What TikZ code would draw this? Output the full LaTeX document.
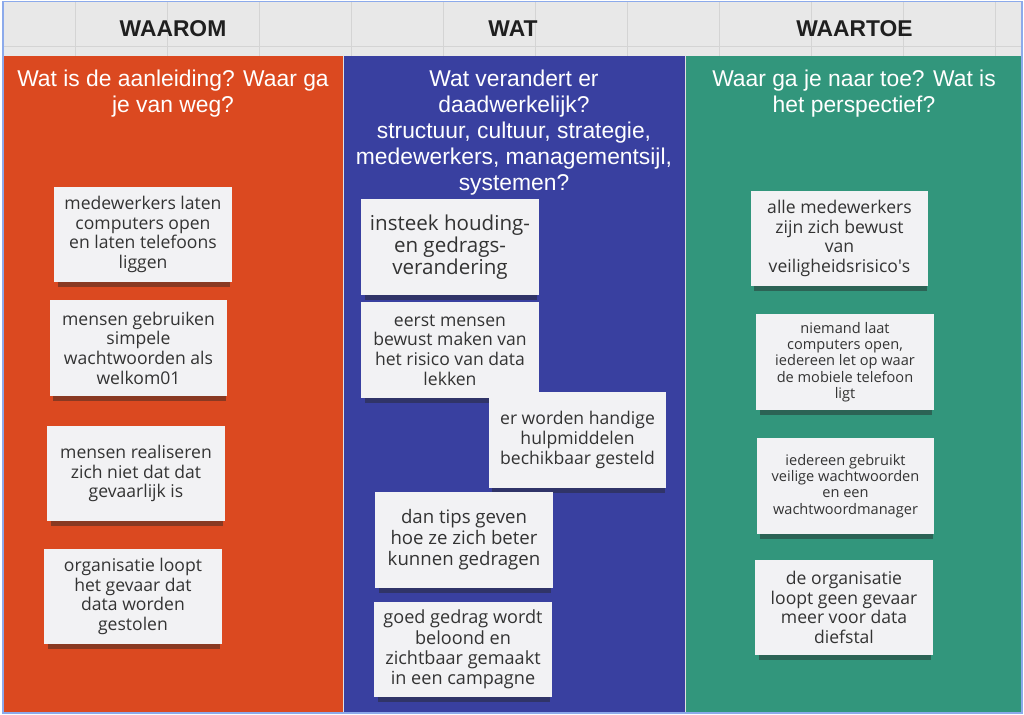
\documentclass[tikz,border=0pt]{standalone}
\usepackage{fontspec}
\setmainfont{Open Sans}
\newfontfamily\titlefont{Liberation Sans}
\usetikzlibrary{shadows}

\definecolor{waaromorange}{RGB}{219,73,32}
\definecolor{watblue}{RGB}{57,64,160}
\definecolor{waartoegreen}{RGB}{50,150,124}
\definecolor{headgray}{RGB}{232,232,232}
\definecolor{gridgray}{RGB}{212,212,212}
\definecolor{notefill}{RGB}{242,242,244}
\definecolor{notetext}{RGB}{51,51,51}
\definecolor{frameblue}{RGB}{140,170,235}

\tikzset{
  sticky/.style={fill=notefill, text=notetext, align=center, inner sep=0pt,
    minimum width=3.56cm, minimum height=1.92cm,
    font=\fontsize{10}{11.2}\selectfont,
    drop shadow={shadow xshift=0.5pt, shadow yshift=-3.5pt, shadow scale=0.97, opacity=.45, fill=black!85}},
  smallsticky/.style={sticky, font=\fontsize{8.3}{9.3}\selectfont},
  bigsticky/.style={sticky, font=\fontsize{11.7}{12.7}\selectfont},
  headlabel/.style={text=black!88, inner sep=0pt, font=\titlefont\bfseries\fontsize{13}{15}\selectfont},
  coltitle/.style={text=white, align=center, anchor=north, inner sep=0pt,
    font=\titlefont\fontsize{13}{14.8}\selectfont}
}

\begin{document}
\begin{tikzpicture}[x=0.02cm, y=-0.02cm]
\useasboundingbox (0,0) rectangle (1024,715);

% header strip with grid
\fill[headgray] (3,2) rectangle (1022,56);
\foreach \gx in {75,167,...,995}
  \draw[gridgray, line width=0.4pt] (\gx,2) -- (\gx,56);
\draw[gridgray, line width=0.4pt] (3,46) -- (1022,46);

% columns
\fill[waaromorange] (3,56) rectangle (343.5,713);
\fill[watblue] (343.5,56) rectangle (685.5,713);
\fill[waartoegreen] (685.5,56) rectangle (1022,713);
\draw[gridgray!70, line width=0.6pt] (343.5,56) -- (343.5,713) (685.5,56) -- (685.5,713);
\draw[frameblue, line width=0.6pt] (3,1.5) rectangle (1022,713);

% headers
\node[headlabel] (hwaarom) at (173,29) {WAAROM};
\node[headlabel] (hwat) at (513,29) {WAT};
\node[headlabel] (hwaartoe) at (854.5,29) {WAARTOE};

\node[coltitle] (twaarom) at (173,70) {Wat is de aanleiding? Waar ga\\je van weg?};
\node[coltitle] (twat) at (514,70) {Wat verandert er\\daadwerkelijk?\\structuur, cultuur, strategie,\\medewerkers, managementsijl,\\systemen?};
\node[coltitle] (twaartoe) at (854,70) {Waar ga je naar toe? Wat is\\het perspectief?};

% waarom
\node[sticky] (o1) at (143,234.5) {medewerkers laten\\computers open\\en laten telefoons\\liggen};
\node[sticky] (o2) at (138.5,348) {mensen gebruiken\\simpele\\wachtwoorden als\\welkom01};
\node[sticky] (o3) at (136,473.5) {mensen realiseren\\zich niet dat dat\\gevaarlijk is};
\node[sticky] (o4) at (133,596.5) {organisatie loopt\\het gevaar dat\\data worden\\gestolen};

% wat
\node[bigsticky] (w1) at (450,247) {insteek houding-\\en gedrags-\\verandering};
\node[sticky] (w2) at (450,350) {eerst mensen\\bewust maken van\\het risico van data\\lekken};
\node[sticky] (w3) at (577.5,440) {er worden handige\\hulpmiddelen\\bechikbaar gesteld};
\node[sticky, font=\fontsize{10.6}{11.9}\selectfont] (w4) at (464,540) {dan tips geven\\hoe ze zich beter\\kunnen gedragen};
\node[sticky, font=\fontsize{10.3}{11.5}\selectfont] (w5) at (463,649.5) {goed gedrag wordt\\beloond en\\zichtbaar gemaakt\\in een campagne};

% waartoe
\node[sticky] (t1) at (839.5,238.5) {alle medewerkers\\zijn zich bewust\\van\\veiligheidsrisico\textquotesingle s};
\node[smallsticky] (t2) at (845,362) {niemand laat\\computers open,\\iedereen let op waar\\de mobiele telefoon\\ligt};
\node[smallsticky] (t3) at (845.5,486) {iedereen gebruikt\\veilige wachtwoorden\\en een\\wachtwoordmanager};
\node[sticky] (t4) at (844,607.5) {de organisatie\\loopt geen gevaar\\meer voor data\\diefstal};
\end{tikzpicture}
\end{document}
